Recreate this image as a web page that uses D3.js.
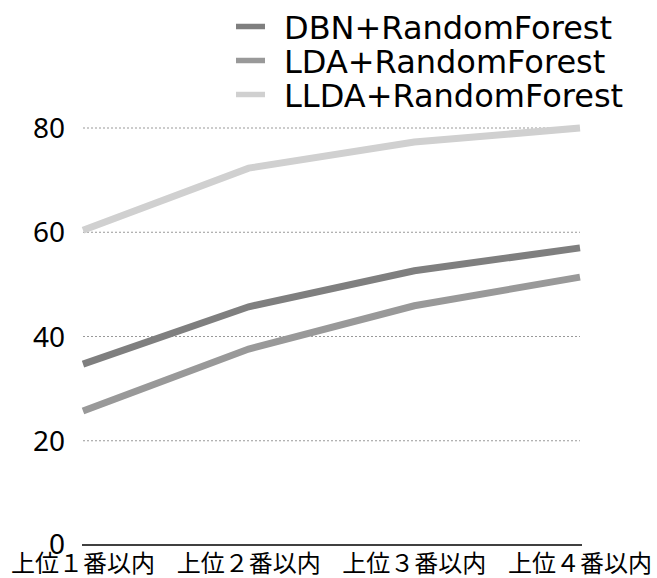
<!DOCTYPE html>
<html><head><meta charset="utf-8">
<script src="https://cdn.jsdelivr.net/npm/d3@7"></script>
<style>body{margin:0;background:#fff}</style>
</head><body>
<svg id="c" width="657" height="578"></svg>
<script>
const categories = ["上位１番以内","上位２番以内","上位３番以内","上位４番以内"];
const seriesNames = ["DBN+RandomForest","LDA+RandomForest","LLDA+RandomForest"];
const dbn = [34.7, 45.7, 52.6, 57.0];
const lda = [25.7, 37.6, 45.9, 51.4];
const llda = [60.4, 72.3, 77.3, 80.0];
const yTicks = [0, 20, 40, 60, 80];
const colors = ["#7f7f7f", "#999999", "#d0d0d0"];

const svg = d3.select("#c");
const cjk = "'Noto Sans CJK JP', 'Noto Sans', sans-serif";
const num = "'Noto Sans', sans-serif";
const lat = "'DejaVu Sans', sans-serif";
const x = d3.scalePoint().domain(categories).range([83, 580]);
const y = d3.scaleLinear().domain([0, 80]).range([545, 128]);

// grid
svg.append("g").selectAll("line").data(yTicks.filter(d => d > 0)).join("line")
  .attr("x1", 83).attr("x2", 580)
  .attr("y1", d => y(d)).attr("y2", d => y(d))
  .attr("stroke", "#999").attr("stroke-width", 1).attr("stroke-dasharray", "2,2");

// baseline
svg.append("line").attr("x1", 82).attr("x2", 582).attr("y1", y(0)).attr("y2", y(0))
  .attr("stroke", "#000").attr("stroke-width", 1.5);

// y labels
svg.append("g").selectAll("text").data(yTicks).join("text")
  .attr("x", 65).attr("y", d => d === 0 ? y(d) + 9 : y(d) + 10)
  .attr("text-anchor", "end")
  .attr("font-family", num).attr("font-size", 28).attr("fill", "#000")
  .text(d => d);

// x labels
svg.append("g").selectAll("text").data(categories).join("text")
  .attr("x", d => x(d)).attr("y", 572).attr("text-anchor", "middle")
  .attr("font-family", cjk).attr("font-size", 24).attr("fill", "#000")
  .text(d => d);

const all = [dbn, lda, llda];
const line = d3.line().x((d, i) => x(categories[i])).y(d => y(d));
[2, 1, 0].forEach(k => {
  svg.append("path").attr("d", line(all[k])).attr("fill", "none")
    .attr("stroke", colors[k]).attr("stroke-width", 7);
});

// legend
const lg = svg.append("g");
seriesNames.forEach((n, i) => {
  const yy = 26.5 + i * 34;
  lg.append("line").attr("x1", 236).attr("x2", 265).attr("y1", yy).attr("y2", yy)
    .attr("stroke", colors[i]).attr("stroke-width", 5.5);
  lg.append("text").attr("x", 284).attr("y", 39 + i * 34)
    .attr("font-family", lat).attr("font-size", 32).attr("fill", "#000").text(n);
});
</script>
</body></html>
